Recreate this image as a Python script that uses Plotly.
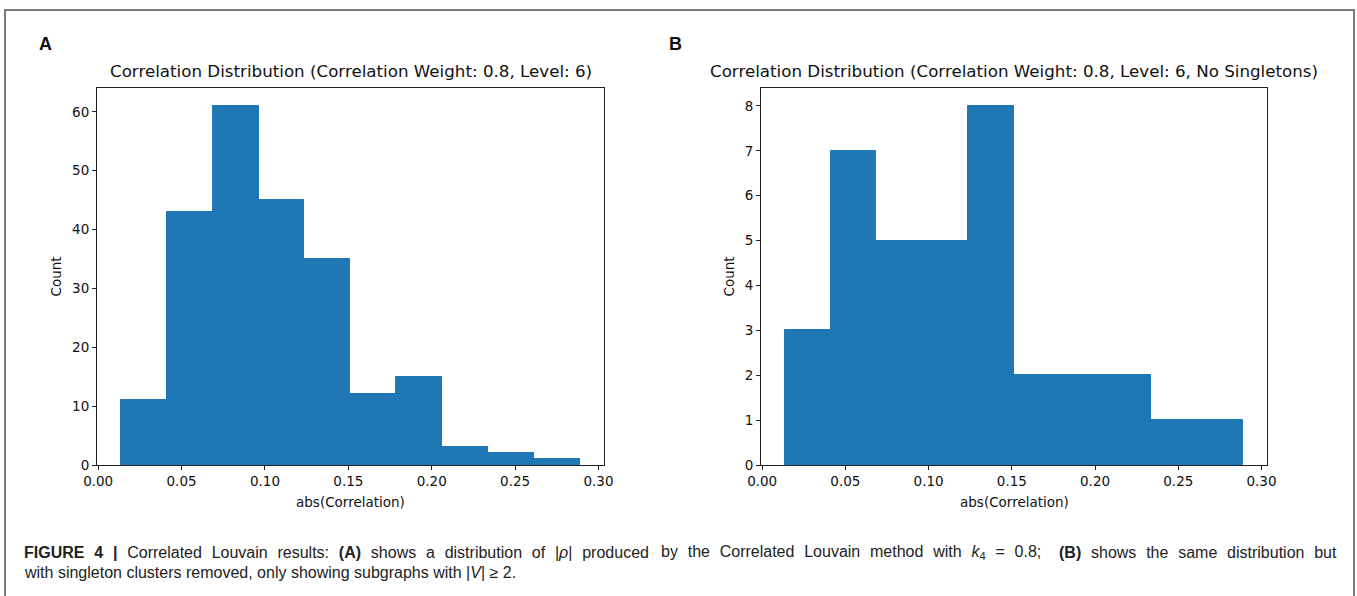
import plotly.graph_objects as go

# ---- data ----
bin_edges = [0.0136, 0.0411, 0.0686, 0.0962, 0.1237, 0.1512, 0.1787, 0.2063, 0.2338, 0.2613, 0.2888]
counts_a = [11, 43, 61, 45, 35, 12, 15, 3, 2, 1]
counts_b = [3, 7, 5, 5, 8, 2, 2, 2, 1, 1]
x_ticks = [0.00, 0.05, 0.10, 0.15, 0.20, 0.25, 0.30]
x_tick_text = ["0.00", "0.05", "0.10", "0.15", "0.20", "0.25", "0.30"]
title_a = "Correlation Distribution (Correlation Weight: 0.8, Level: 6)"
title_b = "Correlation Distribution (Correlation Weight: 0.8, Level: 6, No Singletons)"
x_label = "abs(Correlation)"
y_label = "Count"
caption_line1_parts = [
    "<b>FIGURE 4 |</b> Correlated Louvain results: <b>(A)</b> shows a distribution of |<i>ρ</i>| produced",
    "by the Correlated Louvain method with <i>k</i><sub>4</sub> = 0.8;",
    "<b>(B)</b> shows the same distribution but",
]
caption_line2 = "with singleton clusters removed, only showing subgraphs with |<i>V</i>| ≥ 2."

W, H = 1357, 596
BLUE = "#1f77b4"

centers = [(bin_edges[i] + bin_edges[i + 1]) / 2 for i in range(len(bin_edges) - 1)]
widths = [bin_edges[i + 1] - bin_edges[i] for i in range(len(bin_edges) - 1)]

fig = go.Figure()
fig.add_trace(go.Bar(x=centers, y=counts_a, width=widths, marker=dict(color=BLUE, line=dict(color=BLUE, width=1)),
                     xaxis="x", yaxis="y", showlegend=False))
fig.add_trace(go.Bar(x=centers, y=counts_b, width=widths, marker=dict(color=BLUE, line=dict(color=BLUE, width=1)),
                     xaxis="x2", yaxis="y2", showlegend=False))

def px(x):
    return x / W

def py(y):
    return 1 - y / H

L1, R1 = 97, 604
L2, R2 = 761, 1267
T, B = 88, 465

tickfont = dict(family="DejaVu Sans", size=13.5, color="#111")
axis_common = dict(showline=True, linecolor="#222", linewidth=1, mirror=True, ticks="outside",
                   ticklen=4, tickwidth=1, tickcolor="#222", showgrid=False, zeroline=False,
                   tickfont=tickfont, automargin=False)

fig.update_layout(
    width=W, height=H, margin=dict(l=0, r=0, t=0, b=0, pad=0), autosize=False,
    paper_bgcolor="white", plot_bgcolor="white", bargap=0,
    xaxis=dict(domain=[px(L1), px(R1)], range=[-0.0007, 0.3033], tickvals=x_ticks, ticktext=x_tick_text,
               anchor="y", **axis_common),
    yaxis=dict(domain=[py(B), py(T)], range=[0, 64.05], dtick=10, anchor="x", **axis_common),
    xaxis2=dict(domain=[px(L2), px(R2)], range=[-0.0007, 0.3033], tickvals=x_ticks, ticktext=x_tick_text,
                anchor="y2", **axis_common),
    yaxis2=dict(domain=[py(B), py(T)], range=[0, 8.4], dtick=1, anchor="x2", **axis_common),
)

ann = []
titlefont = dict(family="DejaVu Sans", size=16.7, color="#111")
ann.append(dict(text=title_a, x=px((L1 + R1) / 2), y=py(71), xref="paper", yref="paper",
                xanchor="center", yanchor="middle", showarrow=False, font=titlefont))
ann.append(dict(text=title_b, x=px((L2 + R2) / 2), y=py(71), xref="paper", yref="paper",
                xanchor="center", yanchor="middle", showarrow=False, font=titlefont))
for lbl, xx in (("A", 45), ("B", 675)):
    ann.append(dict(text="<b>%s</b>" % lbl, x=px(xx), y=py(44), xref="paper", yref="paper",
                    xanchor="center", yanchor="middle", showarrow=False,
                    font=dict(family="Liberation Sans", size=18, color="#111")))
for cx in ((L1 + R1) / 2, (L2 + R2) / 2):
    ann.append(dict(text=x_label, x=px(cx), y=py(502), xref="paper", yref="paper",
                    xanchor="center", yanchor="middle", showarrow=False, font=tickfont))
for cx in (55, 728):
    ann.append(dict(text=y_label, x=px(cx), y=py((T + B) / 2), xref="paper", yref="paper",
                    xanchor="center", yanchor="middle", showarrow=False, textangle=-90, font=tickfont))

capfont = dict(family="Liberation Sans", size=16, color="#222")
SEP = " \u2004"  # wider word spacing: the first caption line is justified in the reference
p1, p2, p3 = [t.replace(" ", SEP) for t in caption_line1_parts]
ann.append(dict(text=p1, x=px(22), y=py(552), xref="paper", yref="paper", align="left",
                xanchor="left", yanchor="middle", showarrow=False, font=capfont))
ann.append(dict(text=p2, x=px(659), y=py(552), xref="paper", yref="paper", align="left",
                xanchor="left", yanchor="middle", showarrow=False, font=capfont))
ann.append(dict(text=p3, x=px(1339), y=py(552), xref="paper", yref="paper", align="right",
                xanchor="right", yanchor="middle", showarrow=False, font=capfont))
ann.append(dict(text=caption_line2, x=px(22), y=py(572), xref="paper", yref="paper", align="left",
                xanchor="left", yanchor="middle", showarrow=False, font=capfont))
fig.update_layout(annotations=ann)

# outer frame of the figure
fig.add_shape(type="rect", xref="paper", yref="paper", x0=px(5), x1=px(1354), y0=py(598), y1=py(10),
              line=dict(color="#7a7a7a", width=2), fillcolor="rgba(0,0,0,0)", layer="below")

fig.write_html("out.html",
               post_script="document.body.style.margin='0';document.body.style.overflow='hidden';"
                           "document.documentElement.style.overflow='hidden';")
